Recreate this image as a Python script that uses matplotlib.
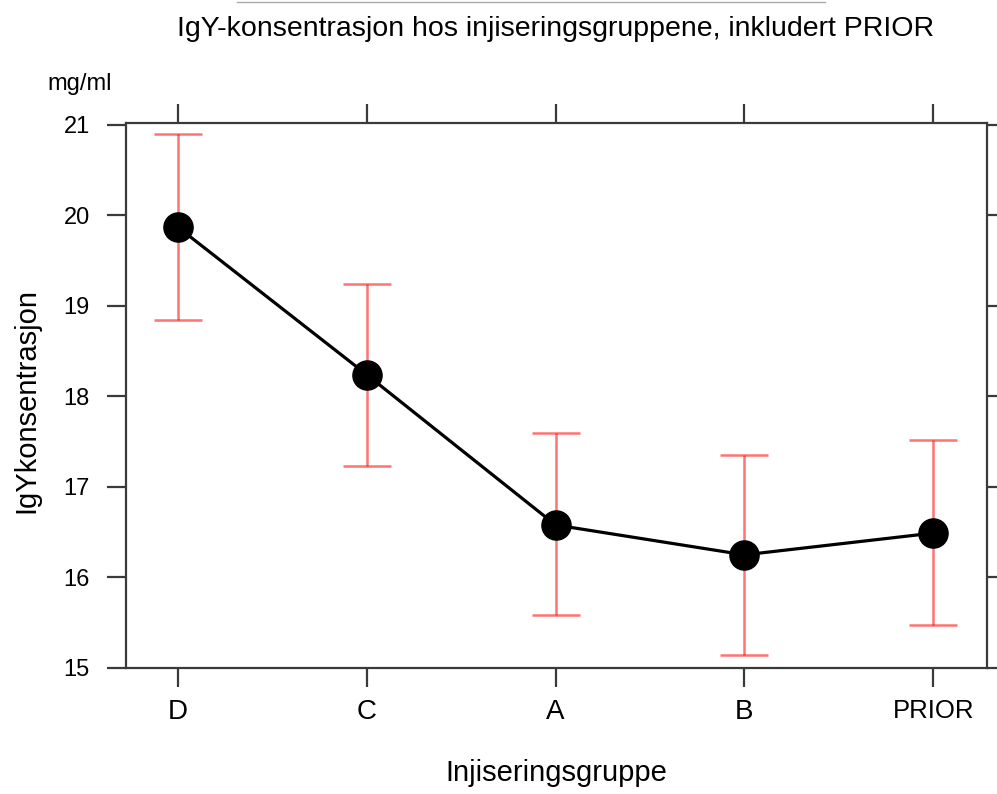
import numpy as np
import matplotlib
matplotlib.use("Agg")
import matplotlib.pyplot as plt
from matplotlib.lines import Line2D

plt.rcParams['font.family'] = ['Liberation Sans', 'DejaVu Sans']

groups = ["D", "C", "A", "B", "PRIOR"]
means = [19.87, 18.24, 16.58, 16.25, 16.49]
upper = [20.90, 19.24, 17.60, 17.35, 17.52]
lower = [18.84, 17.23, 15.58, 15.14, 15.47]
yticks = [15, 16, 17, 18, 19, 20, 21]

x = np.arange(len(groups))
means = np.array(means)
err = [means - np.array(lower), np.array(upper) - means]

fig = plt.figure(figsize=(9.97, 7.94), dpi=100)
ax = fig.add_axes([0.1264, 0.1587, 0.8636, 0.6863])

ax.errorbar(x, means, yerr=err, fmt="none", ecolor="#ff0000", alpha=0.55,
            elinewidth=1.8, capsize=17, capthick=1.8, zorder=2)
ax.plot(x, means, color="black", lw=2.3, marker="o", markersize=21, zorder=3)

ax.set_xlim(-0.275, 4.285)
ax.set_ylim(15, 21.02)
ax.set_xticks(x)
ax.set_xticklabels(groups)
ax.set_yticks(yticks)

ax.tick_params(axis="both", direction="out", length=14, width=1.6, color="#3a3a3a",
               labelsize=17, top=True, right=True, labeltop=False, labelright=False)
ax.tick_params(axis="x", pad=8)
ax.tick_params(axis="y", pad=12)
for lab in ax.get_xticklabels():
    lab.set_fontsize(20 if lab.get_text() != "PRIOR" else 18.5)
for s in ax.spines.values():
    s.set_color("#3a3a3a")
    s.set_linewidth(1.6)

fig.text(0.558, 0.027, "Injiseringsgruppe", ha="center", va="center", fontsize=21)
fig.text(0.026, 0.495, "IgYkonsentrasjon", ha="center", va="center", fontsize=21,
         rotation=90)
fig.text(0.557, 0.963, "IgY-konsentrasjon hos injiseringsgruppene, inkludert PRIOR",
         ha="center", va="center", fontsize=20.5)
fig.text(0.080, 0.894, "mg/ml", ha="center", va="center", fontsize=17)
fig.add_artist(Line2D([0.238, 0.827], [0.997, 0.997], transform=fig.transFigure,
                      color="#aaaaaa", lw=1))

fig.savefig("out.png", dpi=100)
